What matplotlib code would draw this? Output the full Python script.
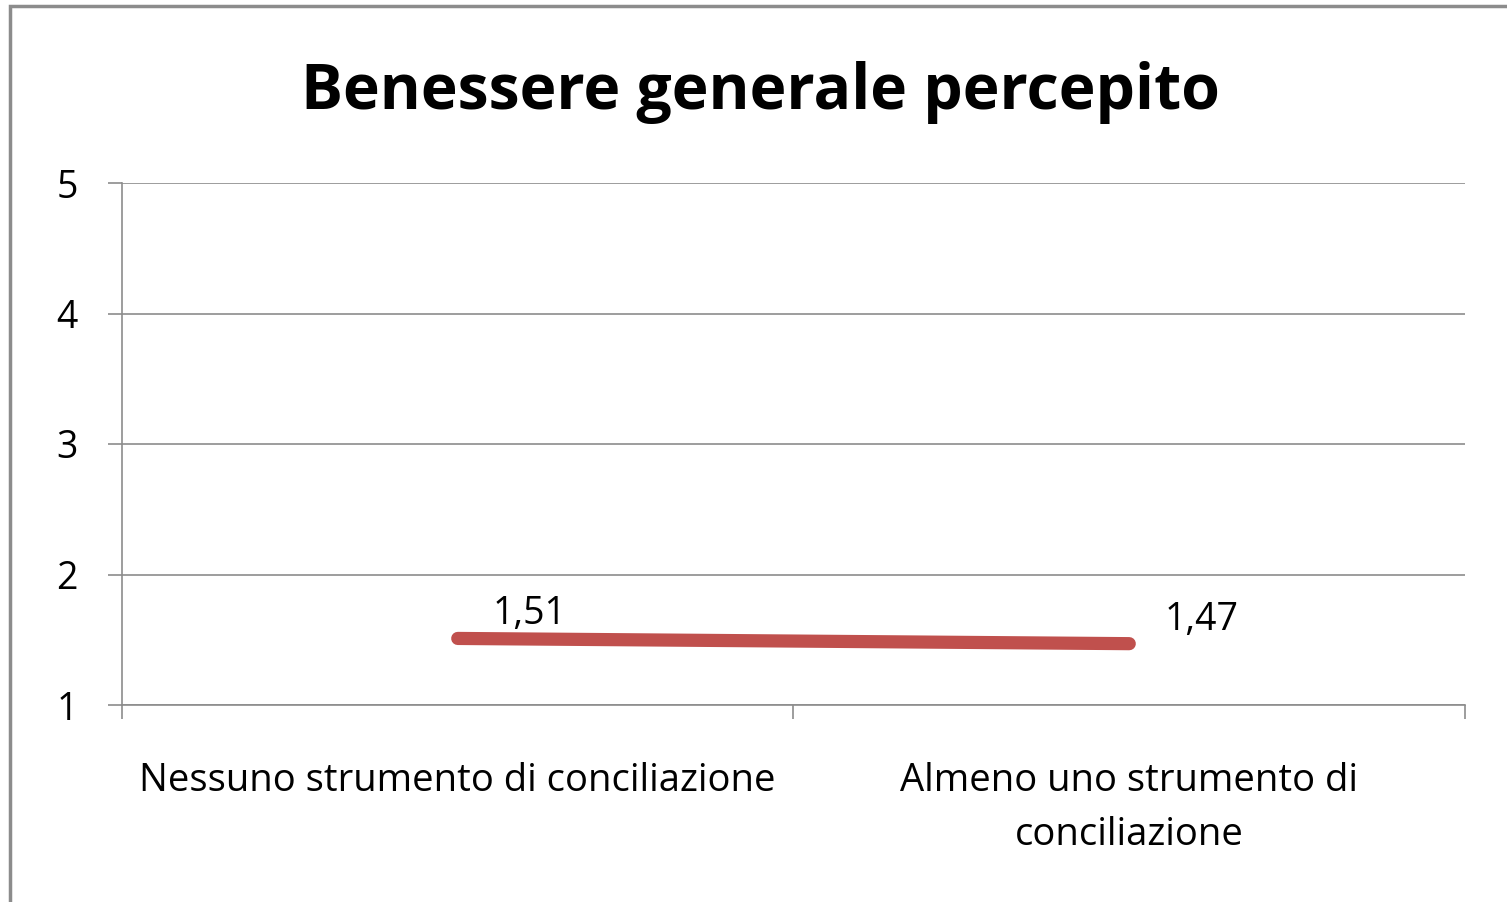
import matplotlib
matplotlib.use("Agg")
import matplotlib.pyplot as plt
from matplotlib.patches import Rectangle

categories = ["Nessuno strumento di conciliazione", "Almeno uno strumento di\nconciliazione"]
values = [1.51, 1.47]
labels = ["1,51", "1,47"]
yticks = [1, 2, 3, 4, 5]
title = "Benessere generale percepito"

plt.rcParams['font.family'] = ['Open Sans', 'DejaVu Sans']

W, H = 1507, 902
fig = plt.figure(figsize=(W / 100, H / 100), dpi=100)
fig.patch.set_facecolor('white')

# outer chart border (left and top visible)
fig.patches.append(Rectangle((10 / W, -0.05), 1.2, 1 - 6 / H + 0.05, transform=fig.transFigure,
                             fill=False, edgecolor='#8c8c8c', linewidth=2.5))

ax = fig.add_axes([122 / W, 1 - 705 / H, (1465 - 122) / W, (705 - 183) / H])
x = [0.5, 1.5]
ax.plot(x, values, color='#C0504D', linewidth=9.5, solid_capstyle='round', zorder=3)
ax.set_xlim(0, 2)
ax.set_ylim(1, 5)
ax.set_yticks(yticks)
ax.set_yticklabels([str(v) for v in yticks], fontsize=27)
ax.yaxis.grid(True, color='#8c8c8c', linewidth=1.2)
ax.set_axisbelow(True)
ax.set_xticks([0, 1, 2])
ax.set_xticklabels([])
ax.set_xticks(x, minor=True)
ax.set_xticklabels(categories, minor=True, fontsize=27.5, linespacing=1.55)
ax.tick_params(axis='x', which='minor', length=0, pad=41)
ax.tick_params(axis='x', which='major', length=10, color='#8c8c8c', width=1.2, direction='out')
ax.tick_params(axis='y', length=10, color='#8c8c8c', width=1.2, pad=22)
for s in ['top', 'right']:
    ax.spines[s].set_visible(False)
for s in ['left', 'bottom']:
    ax.spines[s].set_color('#8c8c8c')
    ax.spines[s].set_linewidth(1.2)

for xi, v, lab in zip(x, values, labels):
    ax.annotate(lab, (xi, v), xytext=(72, 24), textcoords='offset pixels',
                ha='center', va='center', fontsize=27, color='black')

fig.text(760 / W, 1 - 92 / H, title, ha='center', va='center', fontsize=45, fontweight='bold')

fig.savefig('out.png', dpi=100)
